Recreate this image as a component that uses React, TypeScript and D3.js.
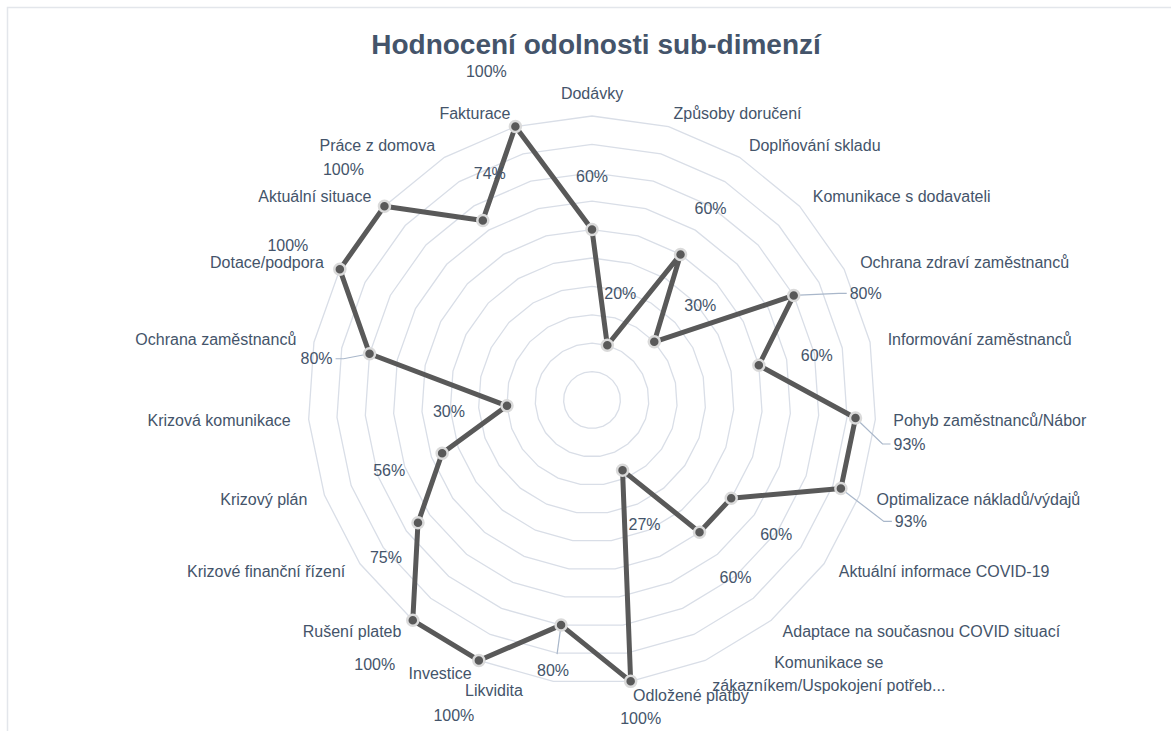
import React from 'react';
import * as d3 from 'd3';

// ---- data ----
const categories: string[] = [
  'Dodávky',
  'Způsoby doručení',
  'Doplňování skladu',
  'Komunikace s dodavateli',
  'Ochrana zdraví zaměstnanců',
  'Informování zaměstnanců',
  'Pohyb zaměstnanců/Nábor',
  'Optimalizace nákladů/výdajů',
  'Aktuální informace COVID-19',
  'Adaptace na současnou COVID situací',
  'Komunikace se\nzákazníkem/Uspokojení potřeb...',
  'Odložené platby',
  'Likvidita',
  'Investice',
  'Rušení plateb',
  'Krizové finanční řízení',
  'Krizový plán',
  'Krizová komunikace',
  'Ochrana zaměstnanců',
  'Dotace/podpora',
  'Aktuální situace',
  'Práce z domova',
  'Fakturace',
];

const values: number[] = [60, 20, 60, 30, 80, 60, 93, 93, 60, 60, 27, 100, 80, 100, 100, 75, 56, 30, 80, 100, 100, 74, 100];

const gridLevels: number[] = [10, 20, 30, 40, 50, 60, 70, 80, 90, 100];

const title = 'Hodnocení odolnosti sub-dimenzí';

// ---- layout (label placement, as in the reference) ----
const valueLabelOffsets: [number, number][] = [
  [0, -53], [13, -52], [30, -46], [46, -36], [72, -2], [58, -10], [54, 26], [70, 33],
  [45, 36], [36, 45], [22, 54], [10, 37], [-8, 45], [-25, 55], [-38, 44], [-32, 35],
  [-53, 17], [-58, 6], [-53, 5], [-52, -24], [-41, -37], [7, -47], [-29, -55],
];
const leaderIdx = new Set<number>([4, 6, 7, 12, 18]);
const categoryNudge: Record<number, [number, number]> = { 12: [-28, -5] };

const W = 1171;
const H = 731;
const cx = 592;
const cy = 400;
const R = 284;
const FONT = "'Liberation Sans', Arial, sans-serif";
const TEXT = '#44546A';

function measure(text: string, font: string): number {
  const c = document.createElement('canvas').getContext('2d');
  if (!c) return text.length * 8;
  c.font = font;
  return c.measureText(text).width;
}

export default function App() {
  const n = categories.length;
  const angle = d3.scaleLinear().domain([0, n]).range([0, 2 * Math.PI]);
  const r = d3.scaleLinear().domain([0, 100]).range([0, R]);

  const gridLine = d3
    .lineRadial<number>()
    .angle((_, i) => angle(i))
    .radius((d) => r(d))
    .curve(d3.curveLinearClosed);

  const seriesLine = d3
    .lineRadial<number>()
    .angle((_, i) => angle(i))
    .radius((d) => r(d))
    .curve(d3.curveLinearClosed);

  const pt = (i: number, v: number): [number, number] => {
    const a = angle(i);
    return [cx + r(v) * Math.sin(a), cy - r(v) * Math.cos(a)];
  };

  const labelFont = `16px ${FONT}`;

  return (
    <svg
      width={W}
      height={H}
      style={{ position: 'absolute', left: 0, top: 0, background: '#fff' }}
      fontFamily={FONT}
    >
      <rect x={7.5} y={7.5} width={W} height={H} fill="#fff" stroke="#E3E6EB" strokeWidth={1.5} />
      <text x={596} y={54} textAnchor="middle" fontSize={28} fontWeight="bold" fill={TEXT}>
        {title}
      </text>

      <g transform={`translate(${cx},${cy})`}>
        {gridLevels.map((lv) => (
          <path
            key={lv}
            d={gridLine(categories.map(() => lv)) || ''}
            fill="none"
            stroke="#D9DEE7"
            strokeWidth={1.3}
          />
        ))}
        <path
          d={seriesLine(values) || ''}
          fill="none"
          stroke="#595959"
          strokeWidth={5}
          strokeLinejoin="round"
        />
      </g>

      {/* leader lines */}
      {values.map((v, i) => {
        if (!leaderIdx.has(i)) return null;
        const [px, py] = pt(i, v);
        const [dx, dy] = valueLabelOffsets[i];
        const lx = px + dx;
        const ly = py + dy;
        const hw = measure(`${v}%`, labelFont) / 2;
        let d: string;
        if (Math.abs(dx) > Math.abs(dy) * 0.6) {
          const s = Math.sign(dx);
          const ex = lx - s * (hw + 3);
          d = `M${px},${py}L${ex - s * 8},${ly}L${ex},${ly}`;
        } else {
          const s = Math.sign(dy);
          d = `M${px},${py}L${lx + 4},${ly - s * 16}`;
        }
        return <path key={'l' + i} d={d} fill="none" stroke="#A9B7CA" strokeWidth={1.2} />;
      })}

      {/* markers */}
      {values.map((v, i) => {
        const [px, py] = pt(i, v);
        return (
          <circle key={'m' + i} cx={px} cy={py} r={5.5} fill="#595959" stroke="#DADADA" strokeWidth={2.5} />
        );
      })}

      {/* value labels */}
      {values.map((v, i) => {
        const [px, py] = pt(i, v);
        const [dx, dy] = valueLabelOffsets[i];
        return (
          <text
            key={'v' + i}
            x={px + dx}
            y={py + dy}
            textAnchor="middle"
            dominantBaseline="central"
            fontSize={16}
            fill={TEXT}
          >
            {`${v}%`}
          </text>
        );
      })}

      {/* category labels */}
      {categories.map((c, i) => {
        const a = angle(i);
        const s = Math.sin(a);
        const co = Math.cos(a);
        const rr = R + 18;
        let ax = cx + rr * s;
        let ay = cy - rr * co;
        const middle = Math.abs(s) < 0.05;
        const anchor = middle ? 'middle' : s > 0 ? 'start' : 'end';
        ay = middle ? ay - 5 : ay + 4 * co;
        const nudge = categoryNudge[i];
        if (nudge) {
          ax += nudge[0];
          ay += nudge[1];
        }
        const lines = c.split('\n');
        if (lines.length > 1) {
          const maxW = Math.max(...lines.map((l) => measure(l, labelFont)));
          const mx = s > 0 ? ax + maxW / 2 : ax - maxW / 2;
          const lh = 23;
          return (
            <text key={'c' + i} textAnchor="middle" fontSize={16} fill={TEXT} dominantBaseline="central">
              {lines.map((l, k) => (
                <tspan key={k} x={mx} y={ay + (k - (lines.length - 1) / 2) * lh}>
                  {l}
                </tspan>
              ))}
            </text>
          );
        }
        return (
          <text
            key={'c' + i}
            x={ax}
            y={ay}
            textAnchor={anchor}
            dominantBaseline="central"
            fontSize={16}
            fill={TEXT}
          >
            {c}
          </text>
        );
      })}
    </svg>
  );
}
